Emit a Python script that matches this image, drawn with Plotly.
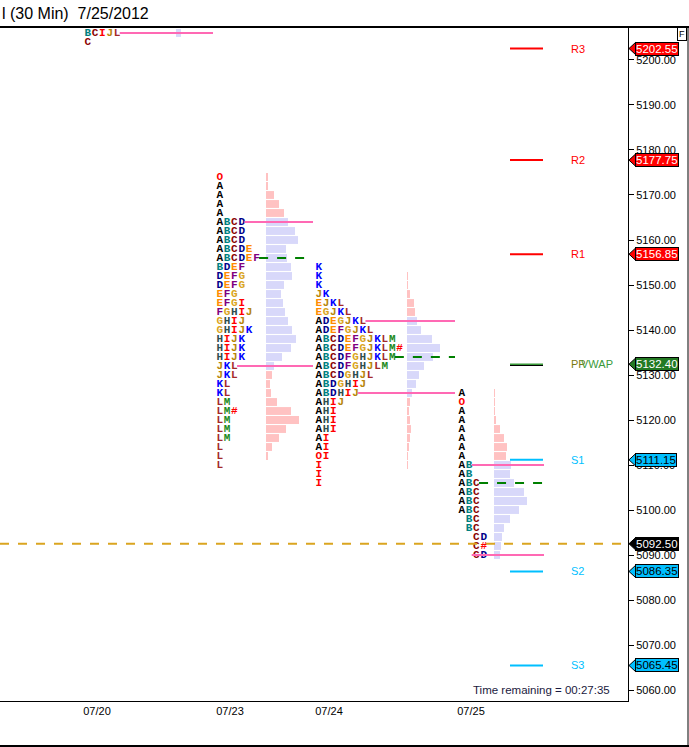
import plotly.graph_objects as go

# ---- values ----
sessions = ["07/20", "07/23", "07/24", "07/25"]

p0720 = [5206, 5204]
tpo0720 = ["BCIJL", "C"]
vol0720 = [5, 0]

p0723 = [5174, 5172, 5170, 5168, 5166, 5164, 5162, 5160, 5158, 5156, 5154,
         5152, 5150, 5148, 5146, 5144, 5142, 5140, 5138, 5136, 5134, 5132,
         5130, 5128, 5126, 5124, 5122, 5120, 5118, 5116, 5114, 5112, 5110]
tpo0723 = ["O", "A", "A", "A", "A", "ABCD", "ABCD", "ABCD", "ABCDE", "ABCDEF",
           "BDEF", "DEFG", "DEFG", "EFG", "EFGI", "FGHIJ", "GHIJ", "GHIJK",
           "HIJK", "HIJK", "HIJK", "JKL", "JKL", "KL", "KL", "LM", "LM#", "LM",
           "LM", "LM", "L", "L", "L"]
vol0723 = [2, 2, 8, 13, 18, 22, 29, 32, 20, 21, 25, 26, 18, 15, 17, 19, 22,
           26, 30, 25, 16, 8, 6, 4, 5, 11, 25, 33, 20, 13, 6, 2, 0]

p0724 = [5154, 5152, 5150, 5148, 5146, 5144, 5142, 5140, 5138, 5136, 5134,
         5132, 5130, 5128, 5126, 5124, 5122, 5120, 5118, 5116, 5114, 5112,
         5110, 5108, 5106]
tpo0724 = ["K", "K", "K", "JK", "EJKL", "EGJKL", "ADEGJKL", "ADEFGJKL",
           "ABCDEFGJKLM", "ABCDEFGJKLM#", "ABCDFGHJKLM", "ABCDFGHJLM",
           "ABCDGHJL", "ABDGHIJ", "ABDHIJ", "AHIJ", "AHI", "AHI", "AHI", "AI",
           "AI", "OI", "I", "I", "I"]
vol0724 = [0, 1, 1, 3, 7, 8, 10, 14, 25, 33, 26, 17, 12, 9, 5, 3, 2, 3, 4, 3,
           2, 1, 1, 0, 0]

p0725 = [5126, 5124, 5122, 5120, 5118, 5116, 5114, 5112, 5110, 5108, 5106,
         5104, 5102, 5100, 5098, 5096, 5094, 5092, 5090]
tpo0725 = ["A", "O", "A", "A", "A", "A", "A", "A", "AB", "AB", "ABC", "ABC",
           "ABC", "ABC", " BC", " BC", "  CD", "  C#", "  CD"]
vol0725 = [1, 1, 1, 2, 6, 10, 13, 12, 17, 16, 20, 30, 33, 25, 16, 10, 8, 7, 6]

vah = [None, 5164, 5142, 5110]
poc = [None, 5156, 5134, 5106]
val = [5206, 5132, 5126, 5090]

pivot_names = ["R3", "R2", "R1", "PP", "S1", "S2", "S3"]
pivot_values = [5202.55, 5177.75, 5156.85, 5132.2, 5111.15, 5086.35, 5065.45]
vwap = 5132.40
last_price = 5092.50
time_remaining = "00:27:35"

# ---- layout (pixels, x axis runs 0..628 px) ----
W, H = 689, 747
ML, MR, MT, MB = 0, 61, 27, 46
PW, PH = W - ML - MR, H - MT - MB
Y0, Y1 = 5057.56, 5207.33
letter_x = [84, 216, 315, 458]
hist_x = [176, 266, 407, 494]
end_x = [213, 313, 455, 544]
date_x = [97, 230, 329, 471]
PITCH = 7.35
PIV_X0, PIV_X1, PIV_LBL = 510, 543, 569

LETTER_COLORS = {
    "A": "#000000", "B": "#008080", "C": "#8B0000", "D": "#00008B",
    "E": "#FF8C00", "F": "#800080", "G": "#DAA520", "H": "#2F4F4F",
    "I": "#FF0000", "J": "#B8860B", "K": "#0000FF", "L": "#A52A2A",
    "M": "#228B22", "O": "#FF0000", "#": "#FF0000",
}
VA_COLOR, OUT_COLOR = "#D8D8FA", "#FFC2C2"
SANS = "Liberation Sans, Arial"

profiles = [(p0720, tpo0720, vol0720), (p0723, tpo0723, vol0723),
            (p0724, tpo0724, vol0724), (p0725, tpo0725, vol0725)]

fig = go.Figure()
shapes = []

for i, (prices, tpos, vols) in enumerate(profiles):
    hi = vah[i] if vah[i] is not None else 1e9
    lo = val[i]
    cols = [VA_COLOR if lo <= p <= hi else OUT_COLOR for p in prices]
    fig.add_trace(go.Bar(orientation="h", y=prices, x=vols, base=hist_x[i],
                         width=1.75, marker=dict(color=cols, line_width=0),
                         hoverinfo="skip", showlegend=False))
    # one text point per TPO letter
    xs, ys, txt, tc = [], [], [], []
    for p, row in zip(prices, tpos):
        for k, ch in enumerate(row):
            if ch == " ":
                continue
            xs.append(letter_x[i] + (k + 0.5) * PITCH)
            ys.append(p)
            txt.append(ch)
            tc.append(LETTER_COLORS[ch])
    fig.add_trace(go.Scatter(x=xs, y=ys, mode="text", text=txt,
                             textposition="middle center",
                             textfont=dict(family="Liberation Mono", size=11,
                                           color=tc, weight="bold"),
                             hoverinfo="skip", showlegend=False))
    for level, color, dash in [(vah[i], "#FF69B4", "solid"),
                               (val[i], "#FF69B4", "solid"),
                               (poc[i], "#008000", "dash")]:
        if level is None:
            continue
        n = len(tpos[prices.index(level)].replace(" ", ""))
        shapes.append(dict(type="line", xref="x", yref="y",
                           x0=letter_x[i] + n * PITCH - 1, x1=end_x[i],
                           y0=level, y1=level,
                           line=dict(color=color, width=2, dash=dash)))

# last price line
shapes.append(dict(type="line", xref="paper", yref="y", x0=0, x1=1,
                   y0=last_price, y1=last_price,
                   line=dict(color="#DAA520", width=2, dash="dash")))

# pivots
annotations = []
for name, v in zip(pivot_names, pivot_values):
    if name.startswith("R"):
        c = "#FF0000"
    elif name.startswith("S"):
        c = "#00BFFF"
    else:
        c = "#000000"
    shapes.append(dict(type="line", xref="x", yref="y", x0=PIV_X0, x1=PIV_X1,
                       y0=v, y1=v, line=dict(color=c, width=2)))
    if name != "PP":
        annotations.append(dict(x=PIV_LBL, y=v, xref="x", yref="y", text=name,
                                showarrow=False, xanchor="left",
                                font=dict(family=SANS, size=11, color=c)))
shapes.append(dict(type="line", xref="x", yref="y", x0=PIV_X0, x1=PIV_X1,
                   y0=vwap, y1=vwap, line=dict(color="#3A9A3A", width=1.5)))
annotations.append(dict(x=PIV_LBL, y=vwap, xref="x", yref="y", text="PP",
                        showarrow=False, xanchor="left",
                        font=dict(family=SANS, size=11, color="#7A7A10")))
annotations.append(dict(x=PIV_LBL + 10, y=vwap, xref="x", yref="y", text="VWAP",
                        showarrow=False, xanchor="left",
                        font=dict(family=SANS, size=11, color="#3A9A3A")))

# price tags on the right axis
tags = [(pivot_values[0], "#FF0000", "white"), (pivot_values[1], "#FF0000", "white"),
        (pivot_values[2], "#FF0000", "white"), (vwap, "#237A23", "white"),
        (pivot_values[4], "#00BFFF", "black"), (last_price, "#000000", "white"),
        (pivot_values[5], "#00BFFF", "black"), (pivot_values[6], "#00BFFF", "black")]
tip = 629 / PW
body = 636 / PW
half = 6.5 / (PH / (Y1 - Y0))
for v, bg, fg in tags:
    shapes.append(dict(type="path", xref="paper", yref="y",
                       path="M %f,%f L %f,%f L %f,%f Z" % (tip, v, body, v + half, body, v - half),
                       fillcolor=bg, line=dict(color="black", width=1), layer="above"))
    annotations.append(dict(x=body - 0.002, y=v, xref="paper", yref="y",
                            text="%.2f" % v, showarrow=False, xanchor="left",
                            yanchor="middle", bgcolor=bg, bordercolor="black",
                            borderwidth=1, borderpad=0,
                            font=dict(family=SANS, size=11.5, color=fg)))

# frame lines
shapes.append(dict(type="line", xref="paper", yref="paper", x0=0, x1=W / PW,
                   y0=1, y1=1, line=dict(color="black", width=2)))
yb = -(H - 1 - (MT + PH)) / PH
shapes.append(dict(type="line", xref="paper", yref="paper", x0=0, x1=W / PW,
                   y0=yb, y1=yb, line=dict(color="black", width=2)))
shapes.append(dict(type="line", xref="paper", yref="paper", x0=688 / PW, x1=688 / PW,
                   y0=yb, y1=1, line=dict(color="black", width=1)))

annotations.append(dict(x=0, y=1 + 13.5 / PH, xref="paper", yref="paper",
                        text="l (30 Min)\u00a0 7/25/2012", showarrow=False,
                        xanchor="left", yanchor="middle",
                        font=dict(family=SANS, size=16, color="black")))
annotations.append(dict(x=682 / PW, y=1 - 7 / PH, xref="paper", yref="paper",
                        text="F", showarrow=False, xanchor="center", yanchor="middle",
                        bordercolor="black", borderwidth=1, borderpad=1,
                        font=dict(family=SANS, size=9, color="black")))
annotations.append(dict(x=612 / PW, y=11 / PH, xref="paper", yref="paper",
                        text="Time remaining = " + time_remaining, showarrow=False,
                        xanchor="right", yanchor="middle",
                        font=dict(family=SANS, size=11.5, color="#1A1A40")))

fig.update_layout(
    width=W, height=H, margin=dict(l=ML, r=MR, t=MT, b=MB),
    paper_bgcolor="white", plot_bgcolor="white", barmode="overlay",
    hovermode=False, shapes=shapes, annotations=annotations,
    xaxis=dict(range=[0, PW], tickvals=date_x, ticktext=sessions,
               showgrid=False, zeroline=False, showline=True, linecolor="black",
               linewidth=1, ticks="", tickfont=dict(family=SANS, size=11, color="black")),
    yaxis=dict(range=[Y0, Y1], side="right", tickvals=list(range(5060, 5201, 10)),
               tickformat=".2f", showgrid=False, zeroline=False, showline=True,
               linecolor="black", linewidth=1, ticks="outside", ticklen=5,
               tickcolor="black", tickfont=dict(family=SANS, size=11, color="black")),
)

# the page's default body margin would shift the figure by 8px
fig.write_html("out.html", config={"displayModeBar": False},
               post_script="document.body.style.margin='0';")
